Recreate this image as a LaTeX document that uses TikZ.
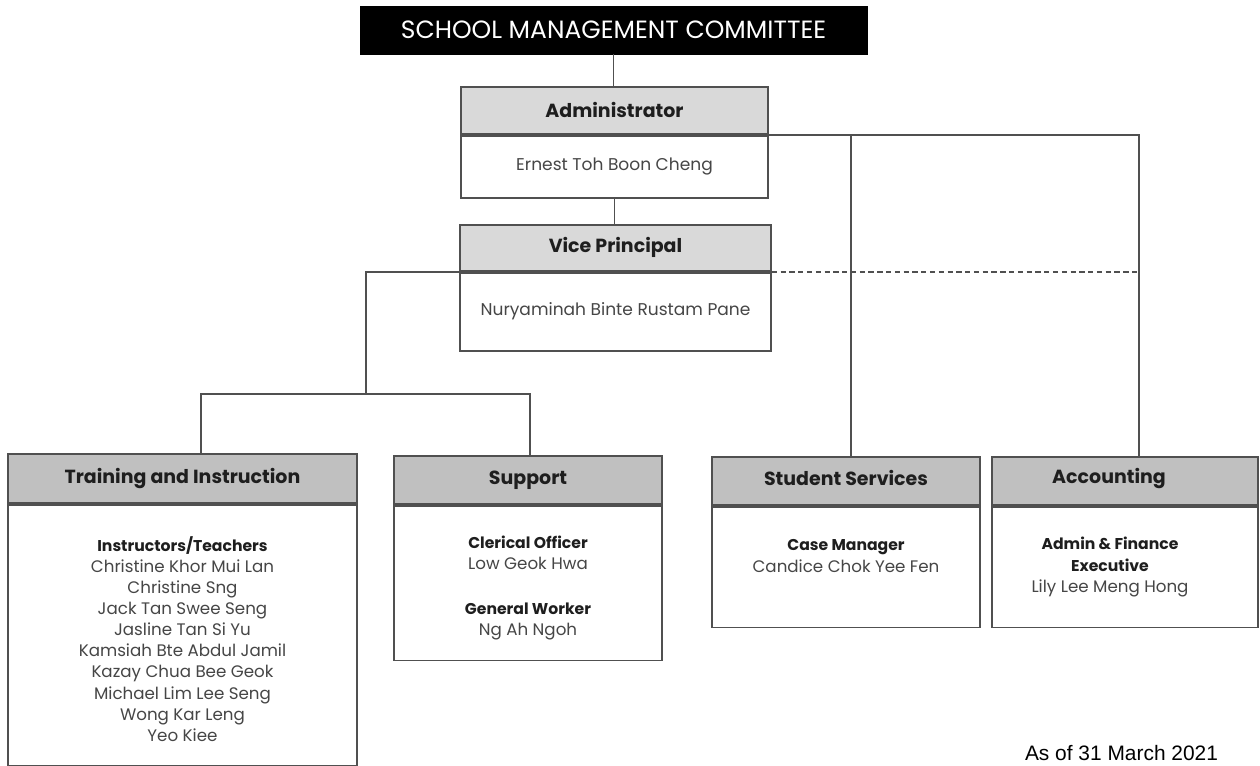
\documentclass[tikz,border=0pt]{standalone}
\usepackage{fontspec}
\setmainfont{Poppins}
\newfontfamily\datefont{Liberation Sans}
\usetikzlibrary{positioning,calc}
\definecolor{hdlight}{RGB}{217,217,217}
\definecolor{hddark}{RGB}{192,192,192}
\definecolor{linegray}{RGB}{80,80,80}
\definecolor{titletext}{RGB}{30,30,30}
\definecolor{nametext}{RGB}{70,70,70}

\begin{document}
\begin{tikzpicture}[x=0.02cm,y=-0.02cm,
  conn/.style={draw=linegray,line width=1pt},
  topbox/.style={draw=black,fill=black,text=white,inner sep=0pt,
    minimum width=10.14cm,minimum height=0.96cm,font=\fontsize{14.2}{16}\selectfont},
  hdbox/.style={draw=linegray,line width=1pt,inner sep=0pt,text=titletext,
    font=\bfseries\fontsize{10.8}{13}\selectfont},
  hdtext/.style={inner sep=0pt,text=titletext,font=\bfseries\fontsize{10.8}{13}\selectfont},
  bdbox/.style={draw=linegray,line width=1pt,fill=white,inner sep=0pt,text=nametext,
    font=\fontsize{9.7}{12}\selectfont},
  roletext/.style={align=center,text=nametext,font=\fontsize{9.5}{12}\selectfont},
  role/.style={text=titletext,font=\bfseries\fontsize{8.9}{12}\selectfont}
]
  \useasboundingbox[fill=white] (0,0) rectangle (1260,765);

  % top of the chart
  \node[topbox] (smc) at (613.5,30) {SCHOOL MANAGEMENT COMMITTEE};
  \node[hdbox,fill=hdlight,minimum width=6.14cm,minimum height=0.94cm,anchor=north] (admh) at (614.5,86) {Administrator};
  \node[bdbox,minimum width=6.14cm,minimum height=1.24cm,below=0pt of admh] (admb) {Ernest Toh Boon Cheng};
  \node[hdbox,fill=hdlight,minimum width=6.22cm,minimum height=0.92cm,anchor=north] (vph) at (615.5,224) {Vice Principal};
  \node[bdbox,minimum width=6.22cm,minimum height=1.56cm,below=0pt of vph] (vpb) {Nuryaminah Binte Rustam Pane};

  % departments
  \node[hdbox,fill=hddark,minimum width=6.98cm,minimum height=0.98cm,anchor=north] (trh) at (182.5,453) {Training and Instruction};
  \node[bdbox,minimum width=6.98cm,minimum height=5.22cm,below=0pt of trh] (trb) {};
  \node[hdbox,fill=hddark,minimum width=5.36cm,minimum height=0.96cm,anchor=north] (suh) at (528,455) {Support};
  \node[bdbox,minimum width=5.36cm,minimum height=3.10cm,below=0pt of suh] (sub) {};
  \node[hdbox,fill=hddark,minimum width=5.36cm,minimum height=0.96cm,anchor=north] (ssh) at (846,456) {};
  \node[bdbox,minimum width=5.36cm,minimum height=2.42cm,below=0pt of ssh] (ssb) {};
  \node[hdtext] (ssht) at (846,478) {Student Services};
  \node[hdbox,fill=hddark,minimum width=5.32cm,minimum height=0.96cm,anchor=north] (ach) at (1125,456) {};
  \node[bdbox,minimum width=5.32cm,minimum height=2.42cm,below=0pt of ach] (acb) {};
  \node[hdtext] (acht) at (1109,478) {Accounting};

  % staff lists
  \node[roletext] (trt) at (182.5,639) {%
    \textbf{\textcolor{titletext}{\fontsize{8.9}{12}\selectfont Instructors/Teachers}}\\
    Christine Khor Mui Lan\\
    Christine Sng\\
    Jack Tan Swee Seng\\
    Jasline Tan Si Yu\\
    Kamsiah Bte Abdul Jamil\\
    Kazay Chua Bee Geok\\
    Michael Lim Lee Seng\\
    Wong Kar Leng\\
    Yeo Kiee};
  \node[roletext] (sut) at (528,588) {%
    \textbf{\textcolor{titletext}{\fontsize{8.9}{12}\selectfont Clerical Officer}}\\
    Low Geok Hwa\\[13.5pt]
    \textbf{\textcolor{titletext}{\fontsize{8.9}{12}\selectfont General Worker}}\\
    Ng Ah Ngoh};
  \node[roletext] (sst) at (846,556) {%
    \textbf{\textcolor{titletext}{\fontsize{8.9}{12}\selectfont Case Manager}}\\
    Candice Chok Yee Fen};
  \node[roletext] (act) at (1110,567) {%
    \textbf{\textcolor{titletext}{\fontsize{8.9}{12}\selectfont Admin \& Finance}}\\
    \textbf{\textcolor{titletext}{\fontsize{8.9}{12}\selectfont Executive}}\\
    Lily Lee Meng Hong};

  % reporting lines
  \coordinate (ssdrop) at (851,0);
  \coordinate (acdrop) at (1139,0);
  \coordinate (lowbus) at (366,394);
  \coordinate (trdrop) at (201,0);
  \coordinate (sudrop) at (530,0);
  \draw[conn] (smc.south) -- (smc.south |- admh.north);
  \draw[conn] (admb.south) -- (admb.south |- vph.north);
  \draw[conn] (admh.south east) -| (ach.north -| acdrop);
  \draw[conn] (ssdrop |- admh.south) -- (ssh.north -| ssdrop);
  \draw[conn,densely dashed] (vph.south east) -- (vph.south east -| acdrop);
  \draw[conn] (vph.south west) -| (lowbus);
  \draw[conn] (trh.north -| trdrop) |- (lowbus) -| (suh.north -| sudrop);

  \node[font=\datefont\fontsize{11.9}{14}\selectfont] (asof) at (1121.5,753) {As of 31 March 2021};
\end{tikzpicture}
\end{document}
